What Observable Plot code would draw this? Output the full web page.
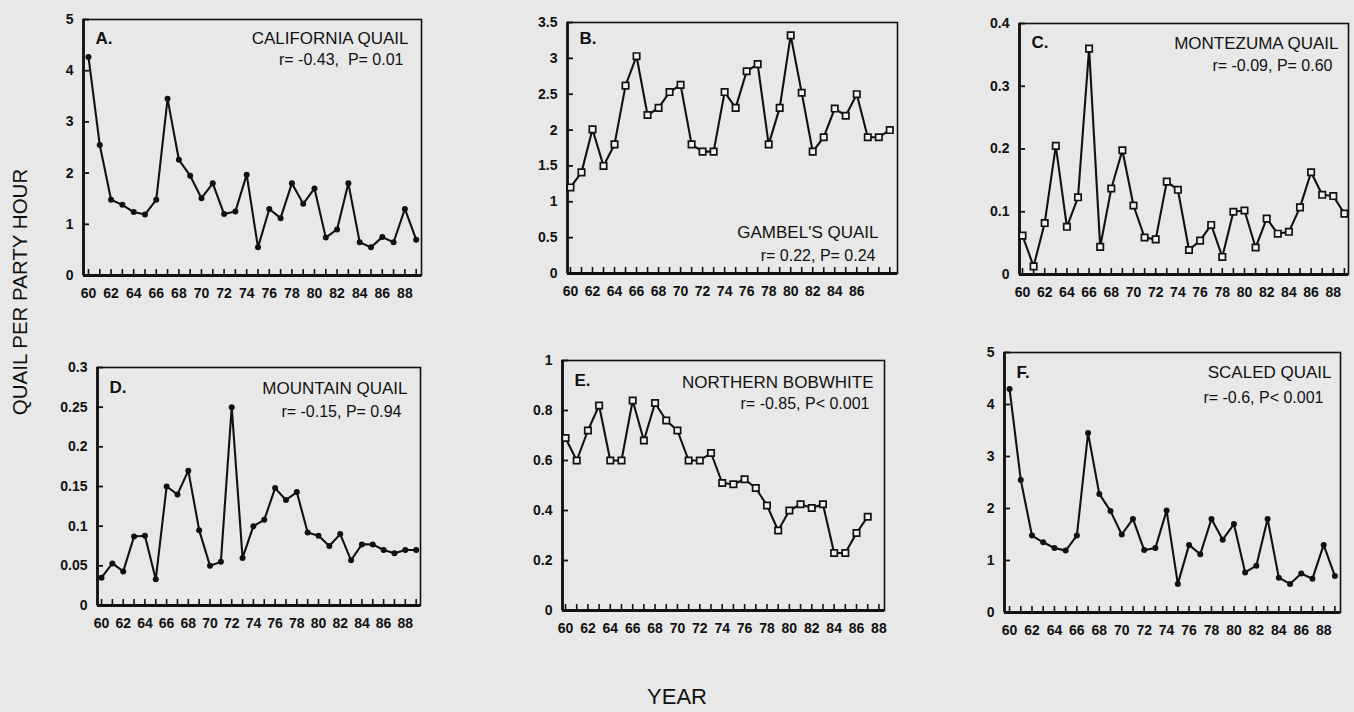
<!DOCTYPE html>
<html><head><meta charset="utf-8">
<script src="https://cdn.jsdelivr.net/npm/d3@7"></script>
<script src="https://cdn.jsdelivr.net/npm/@observablehq/plot@0.6"></script>
<style>
html,body{margin:0;padding:0;background:#e8e8e8;}
#wrap{position:relative;width:1354px;height:712px;overflow:hidden;background:#e8e8e8;font-family:"Liberation Sans",Arial,Helvetica,sans-serif;color:#111;}
#ytitle{position:absolute;left:20px;top:292px;transform:translate(-50%,-50%) rotate(-90deg);font-size:20.5px;white-space:nowrap;}
#xtitle{position:absolute;left:677px;top:684px;transform:translateX(-50%);font-size:22px;}
</style></head><body>
<div id="wrap"><div id="ytitle">QUAIL PER PARTY HOUR</div><div id="xtitle">YEAR</div></div>
<script>
const years = [60,61,62,63,64,65,66,67,68,69,70,71,72,73,74,75,76,77,78,79,80,81,82,83,84,85,86,87,88,89];
const labels88 = [60,62,64,66,68,70,72,74,76,78,80,82,84,86,88];
const labels86 = [60,62,64,66,68,70,72,74,76,78,80,82,84,86];

const california = [4.27,2.55,1.48,1.38,1.24,1.19,1.48,3.45,2.26,1.95,1.51,1.8,1.2,1.25,1.97,0.55,1.3,1.12,1.8,1.4,1.7,0.74,0.9,1.8,0.65,0.55,0.75,0.65,1.3,0.7];
const gambel = [1.2,1.41,2.01,1.5,1.8,2.62,3.03,2.21,2.31,2.53,2.63,1.8,1.7,1.7,2.53,2.31,2.82,2.92,1.8,2.31,3.32,2.52,1.7,1.9,2.3,2.2,2.5,1.9,1.9,2.0];
const montezuma = [0.062,0.013,0.082,0.205,0.076,0.123,0.36,0.044,0.137,0.198,0.11,0.059,0.056,0.148,0.135,0.039,0.054,0.079,0.028,0.1,0.102,0.043,0.089,0.065,0.068,0.107,0.163,0.127,0.125,0.097];
const mountain = [0.035,0.053,0.043,0.087,0.088,0.033,0.15,0.14,0.17,0.095,0.05,0.055,0.25,0.06,0.1,0.108,0.148,0.133,0.143,0.092,0.088,0.075,0.09,0.057,0.077,0.077,0.07,0.066,0.07,0.07];
const bobwhite = [0.69,0.6,0.72,0.82,0.6,0.6,0.84,0.68,0.83,0.76,0.72,0.6,0.6,0.63,0.51,0.505,0.525,0.49,0.42,0.32,0.4,0.425,0.41,0.425,0.23,0.23,0.31,0.375];
const scaled = [4.3,2.55,1.48,1.35,1.24,1.19,1.48,3.45,2.28,1.95,1.5,1.8,1.2,1.24,1.96,0.55,1.3,1.12,1.8,1.4,1.7,0.77,0.9,1.8,0.67,0.55,0.75,0.65,1.3,0.7];

const yTicksA = [0,1,2,3,4,5];
const yTicksB = [0,0.5,1,1.5,2,2.5,3,3.5];
const yTicksC = [0,0.1,0.2,0.3,0.4];
const yTicksD = [0,0.05,0.1,0.15,0.2,0.25,0.3];
const yTicksE = [0,0.2,0.4,0.6,0.8,1];
const yTicksF = [0,1,2,3,4,5];

const panels = [
  {letter:"A.", title:"CALIFORNIA QUAIL", stat:"r= -0.43,  P= 0.01", values:california, yTicks:yTicksA, xLabels:labels88, marker:"dot",
   left:83, right:421, top:19, bottom:275, x0:59.56, x1:89.47, pos:"top", ldy:24, tdy:24, sdy:45, tdx:-13, sdx:-18},
  {letter:"B.", title:"GAMBEL'S QUAIL", stat:"r= 0.22, P= 0.24", values:gambel, yTicks:yTicksB, xLabels:labels86, marker:"square",
   left:567, right:897, top:22, bottom:273, x0:59.73, x1:89.7, pos:"bottom", ldy:21, tdy:-36, sdy:-13, tdx:-19, sdx:-22},
  {letter:"C.", title:"MONTEZUMA QUAIL", stat:"r= -0.09, P= 0.60", values:montezuma, yTicks:yTicksC, xLabels:labels88, marker:"square",
   left:1019, right:1348, top:23, bottom:274, x0:59.73, x1:89.37, pos:"top", ldy:24, tdy:25, sdy:47, tdx:-10, sdx:-16},
  {letter:"D.", title:"MOUNTAIN QUAIL", stat:"r= -0.15, P= 0.94", values:mountain, yTicks:yTicksD, xLabels:labels88, marker:"dot",
   left:97, right:420, top:367, bottom:605, x0:59.63, x1:89.4, pos:"top", ldy:25, tdy:26, sdy:49, tdx:-13, sdx:-19},
  {letter:"E.", title:"NORTHERN BOBWHITE", stat:"r= -0.85, P< 0.001", values:bobwhite, yTicks:yTicksE, xLabels:labels88, marker:"square",
   left:562, right:884, top:360, bottom:610, x0:59.73, x1:88.5, pos:"top", ldy:25, tdy:27, sdy:48, tdx:-11, sdx:-15},
  {letter:"F.", title:"SCALED QUAIL", stat:"r= -0.6, P< 0.001", values:scaled, yTicks:yTicksF, xLabels:labels88, marker:"dot",
   left:1004, right:1340, top:352, bottom:612, x0:59.55, x1:89.5, pos:"top", ldy:25, tdy:25, sdy:50, tdx:-9, sdx:-17}
];

const wrap = document.getElementById("wrap");
const ink = "#111";
const font = "'Liberation Sans', Arial, Helvetica, sans-serif";

for (const p of panels) {
  const ml = 48, mr = 4, mt = 4, mb = 36;
  const w = p.right - p.left + ml + mr;
  const h = p.bottom - p.top + mt + mb;
  const ymax = p.yTicks[p.yTicks.length - 1];
  const data = p.values.map((v, i) => ({year: years[i], v}));
  const tickYears = years.filter(y => y >= p.x0 && y <= p.x1);
  const anchorT = p.pos === "top" ? "top-right" : "bottom-right";
  const marks = [
    Plot.axisY(p.yTicks.slice(1), {label: null, tickSize: -6, tickPadding: 16, fontSize: 14, fontWeight: "bold", tickFormat: d => String(d), strokeWidth: 1.8}),
    Plot.axisY([0], {label: null, tickSize: 0, tickPadding: 10, fontSize: 14, fontWeight: "bold", tickFormat: d => String(d)}),
    Plot.axisX(tickYears, {label: null, tickSize: -6, tickFormat: () => "", strokeWidth: 1.6}),
    Plot.axisX(p.xLabels, {label: null, tickSize: 0, tickPadding: 13, fontSize: 14, fontWeight: "bold", tickFormat: d => String(d)}),
    Plot.frame({stroke: ink, strokeWidth: 1.6}),
    Plot.ruleY([0], {stroke: ink, strokeWidth: 3}),
    Plot.ruleX([p.x0], {stroke: ink, strokeWidth: 2.8}),
    Plot.line(data, {x: "year", y: "v", stroke: ink, strokeWidth: 2.1}),
    p.marker === "dot"
      ? Plot.dot(data, {x: "year", y: "v", r: 3, fill: ink})
      : Plot.dot(data, {x: "year", y: "v", symbol: "square", r: 3.6, fill: "#f2f2f2", stroke: ink, strokeWidth: 1.7}),
    Plot.text([p.letter], {text: d => d, frameAnchor: "top-left", dx: 12, dy: p.ldy, lineAnchor: "bottom", textAnchor: "start", fontSize: 17, fontWeight: "bold", fill: ink}),
    Plot.text([p.title], {text: d => d, frameAnchor: anchorT, dx: p.tdx, dy: p.tdy, lineAnchor: "bottom", textAnchor: "end", fontSize: 17, fill: ink}),
    Plot.text([p.stat], {text: d => d, frameAnchor: anchorT, dx: p.sdx, dy: p.sdy, lineAnchor: "bottom", textAnchor: "end", fontSize: 16, fill: ink})
  ];
  const svg = Plot.plot({
    width: w, height: h,
    marginLeft: ml, marginRight: mr, marginTop: mt, marginBottom: mb,
    x: {domain: [p.x0, p.x1], label: null},
    y: {domain: [0, ymax], label: null},
    style: {background: "transparent", fontFamily: font, color: ink, overflow: "visible"},
    marks
  });
  svg.style.position = "absolute";
  svg.style.left = (p.left - ml) + "px";
  svg.style.top = (p.top - mt) + "px";
  wrap.appendChild(svg);
}
</script>
</body></html>
